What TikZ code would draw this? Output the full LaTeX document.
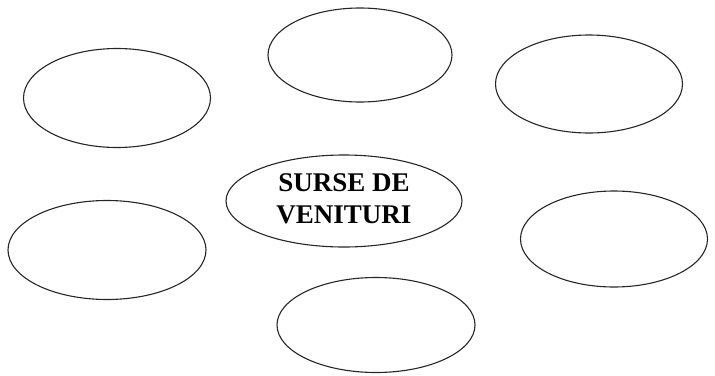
\documentclass[tikz,border=0pt]{standalone}
\usepackage{fontspec}
\setmainfont{Liberation Serif}
\usetikzlibrary{shapes.geometric}
\begin{document}
\begin{tikzpicture}[x=1pt,y=-1pt,
  oval/.style={draw=black!85, line width=1.1pt, ellipse, inner sep=0pt},
  lbl/.style={font=\bfseries\fontsize{27}{32}\selectfont, align=center}]
\useasboundingbox (0,0) rectangle (715,375);
\node[oval, minimum width=187pt, minimum height=99pt] (tl) at (117,98) {};
\node[oval, minimum width=184pt, minimum height=94pt] (tc) at (360,55) {};
\node[oval, minimum width=187pt, minimum height=98pt] (tr) at (589,84) {};
\node[oval, minimum width=236pt, minimum height=92pt] (c) at (344,201) {};
\node[lbl] (t) at (344,199) {SURSE DE\\VENITURI};
\node[oval, minimum width=198pt, minimum height=99pt] (l) at (107,250) {};
\node[oval, minimum width=187pt, minimum height=96pt] (r) at (614,239) {};
\node[oval, minimum width=198pt, minimum height=95pt] (b) at (376,325) {};
\end{tikzpicture}
\end{document}
